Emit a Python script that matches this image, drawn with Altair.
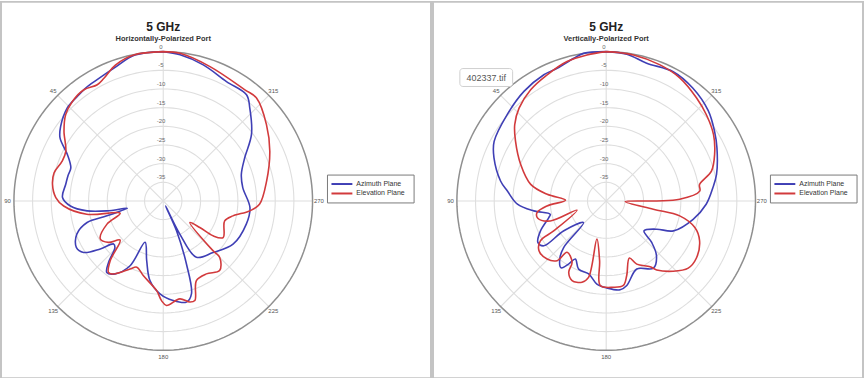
import altair as alt
import pandas as pd

# ---------------- data (angle in degrees CCW from top, gain in dB) ----------------
PLANES = ["Azimuth Plane", "Elevation Plane"]
COLORS = ["#3f3fb5", "#d23a3c"]

# Left: Horizontally-Polarized Port
H_AZ_ANG = [0, 11, 20, 28.6, 34.5, 40, 45.9, 53.9, 58.6, 64.2, 70.3, 75, 80.3, 88, 93.1, 97.4, 100, 101.5,
            104.8, 105.8, 111, 118.1, 122.9, 127.3, 130.9, 134, 138.3, 141.7, 146.6, 152.9, 156.3, 164.5,
            170.5, 178, 185.7, 192.9, 196.9, 200.2, 204, 205, 206.6, 210.5, 224, 238.2, 254.4, 265.6, 279.5,
            288.8, 297.9, 307, 317, 321.9, 332.1, 343.6, 353.4, 360]
H_AZ_DB = [0, -0.2, -2, -3, -3.3, -3.8, -4.2, -6, -7.6, -11.5, -13.7, -13.6, -13.5, -13, -15.1, -19.4, -24.7, -30.2,
           -24.4, -18.8, -15.2, -13.6, -14.6, -18.8, -22.4, -22, -18, -15.6, -16.6, -20.5, -27.9, -23.4,
           -18.4, -15.1, -13.2, -12.2, -14, -22, -31.2, -38.5, -30, -22.5, -20.8, -18, -16.9, -16.7, -18.4,
           -17.9, -15.3, -10.4, -6, -3.85, -3.8, -2, -0.6, 0]
H_EL_ANG = [0, 11.4, 19.4, 25.8, 29.6, 35.5, 42.4, 48.5, 54.9, 63, 68.5, 75.5, 81.5, 88.2, 92.9, 99.9, 105.9,
            112.4, 121.2, 127.1, 132.2, 138.4, 142.5, 145.7, 154, 158.2, 165, 175.8, 179, 181.8, 189.6, 194.7,
            197.6, 202.6, 210.6, 219, 225, 225, 230.9, 234, 235, 238.6, 252, 257.9, 263.4, 268, 280.9, 295,
            306.5, 317.8, 323.7, 340.8, 353.5, 360]
H_EL_DB = [0, -0.1, -1.4, -3.5, -4.2, -3.4, -3.9, -5.1, -7.5, -10.7, -10.9, -9.8, -10, -11.2, -13.3, -19.2, -28,
           -23.7, -20.3, -21.6, -24.4, -18.6, -15.9, -16.3, -19.7, -20.9, -19.3, -15.9, -13.3, -12, -13.4, -12,
           -12, -16.9, -17.3, -16, -18.6, -21.1, -30.8, -27.9, -23.7, -21.2, -22.7, -20.9, -16.7, -14.2, -11.8,
           -8.5, -5.6, -2.8, -3.05, -1.9, -0.2, 0]

# Right: Vertically-Polarized Port
V_AZ_ANG = [0, 8.7, 12.8, 20.3, 26.3, 36.9, 48.9, 62, 69, 79.3, 84.3, 92.1, 97.8, 103.4, 106.1, 114.4, 121.2,
            125.7, 125.1, 133.7, 137.6, 141.3, 146, 149.3, 152, 158, 166.5, 173.6, 180.4, 188.9, 193.7, 204.2,
            215.1, 222.6, 227.6, 231.7, 240.8, 246, 258.1, 268.1, 277.1, 283.5, 295.6, 302.7, 311.5, 322.4,
            332.6, 343.6, 352, 360]
V_AZ_DB = [0, 0, -0.8, -2.1, -2.3, -3.3, -4.8, -6, -7.8, -11.2, -13.4, -16.2, -20.4, -24.6, -24, -20.7, -18.6,
           -19.4, -26, -31.6, -23.1, -20.1, -18.4, -20.4, -22.4, -20.3, -19.9, -17.6, -16.7, -15.9, -16.7, -20,
           -18, -20.1, -23.5, -27.1, -24.5, -20.3, -16.2, -13.2, -11.2, -9.6, -7.1, -5.5, -3.5, -1.9,
           -1, -1.55, -0.3, 0]
V_EL_ANG = [0, 7.5, 15.7, 25.1, 34.2, 43.2, 50.2, 56.6, 66.9, 77.6, 83.6, 89, 94.8, 99.6, 104.2, 109.7, 107.6,
            119.7, 121.2, 126.5, 134.5, 140.6, 142.7, 150.9, 152.3, 156.8, 163.4, 167, 166.3, 173.7, 176, 184.8,
            191.5, 195.4, 202.1, 205.8, 213.7, 216.2, 223.6, 230.7, 237.7, 246.9, 253.3, 258.5, 260, 268, 270,
            271.3, 276, 280, 285.8, 293.2, 301.7, 310.7, 318.7, 329, 338.4, 349.4, 360]
V_EL_DB = [0, -0.55, -1.2, -2.7, -4, -5.9, -8.1, -10.9, -15.1, -19.3, -24.1, -29.1, -24.1, -21.2, -21.1, -24.1, -31.8,
           -23.8, -19.4, -17.6, -17.8, -19.3, -22.7, -21.2, -18.4, -16.8, -17.3, -19, -29.5, -23.9, -17.3, -16.8,
           -16.9, -19.3, -23.5, -21.2, -18.8, -17.1, -14, -11.6, -11.4, -12.8, -15.2, -19.9, -27.2, -34.9, -26.5,
           -20.3, -14.8, -14.6, -10.7, -8.4, -6.2, -4.6, -3.3, -1.6, -0.8, -0.2, 0]

RING_LEVELS = [-35, -30, -25, -20, -15, -10, -5]
OUTER_LEVEL = [0]
RADIAL_TICKS = [0, -5, -10, -15, -20, -25, -30, -35]
SPOKE_ANGLES = [0, 45, 90, 135]
ANGLE_TICKS = [45, 90, 135, 180, 225, 270, 315]

TITLE = "5 GHz"
SUBTITLES = ["Horizontally-Polarized Port", "Vertically-Polarized Port"]
FILE_TAG = "402337.tif"

FONT = "Liberation Sans"
PX = 3.75      # pixels per dB
SPAN = 40      # dB from centre to outer ring
PANEL_W = 432
PANEL_H = 378


def curve_frame(az_ang, az_db, el_ang, el_db):
    rows = []
    for plane, angs, dbs in ((PLANES[0], az_ang, az_db), (PLANES[1], el_ang, el_db)):
        for i, (a, d) in enumerate(zip(angs, dbs)):
            rows.append({"plane": plane, "idx": i, "ang": a, "db": d})
    return pd.DataFrame(rows)


def legend_layers(cx):
    lx = cx + 165
    box = (
        alt.Chart(pd.DataFrame({"t": ["legend"]}))
        .mark_rect(fill="white", stroke="#7a7a7a", strokeWidth=1)
        .encode(x=alt.value(lx), x2=alt.value(lx + 87), y=alt.value(174), y2=alt.value(202))
    )
    leg = pd.DataFrame({"plane": PLANES, "color": COLORS, "row": [0, 1]})
    sym = (
        alt.Chart(leg)
        .transform_calculate(py="183 + datum.row * 9.5")
        .mark_rule(strokeWidth=2)
        .encode(
            x=alt.value(lx + 4), x2=alt.value(lx + 25),
            y=alt.Y("py:Q", scale=None), color=alt.Color("color:N", scale=None),
        )
    )
    txt = (
        alt.Chart(leg)
        .transform_calculate(py="183 + datum.row * 9.5")
        .mark_text(font=FONT, fontSize=7, color="#333333", align="left", baseline="middle")
        .encode(x=alt.value(lx + 29), y=alt.Y("py:Q", scale=None), text="plane:N")
    )
    return [box, sym, txt]


def panel(subtitle, curves, cx, cy, extra=None):
    xs = alt.Scale(domain=[-cx / PX, (PANEL_W - cx) / PX], nice=False, zero=False)
    ys = alt.Scale(domain=[-(PANEL_H - cy) / PX, cy / PX], nice=False, zero=False)
    X = alt.X("x:Q", scale=xs, axis=None)
    Y = alt.Y("y:Q", scale=ys, axis=None)

    def ring_chart(levels, color, width):
        return (
            alt.Chart(pd.DataFrame({"level": levels}))
            .transform_calculate(a="sequence(0, 362, 2)")
            .transform_flatten(["a"])
            .transform_calculate(
                x=f"-(datum.level + {SPAN}) * sin(datum.a * PI / 180)",
                y=f"(datum.level + {SPAN}) * cos(datum.a * PI / 180)",
            )
            .mark_line(color=color, strokeWidth=width)
            .encode(x=X, y=Y, detail="level:N", order="a:Q")
        )

    rings = ring_chart(RING_LEVELS, "#dedede", 1.1)
    outer = ring_chart(OUTER_LEVEL, "#8f8f8f", 1.5)

    spokes = (
        alt.Chart(pd.DataFrame({"ang": SPOKE_ANGLES}))
        .transform_calculate(
            x=f"-{SPAN} * sin(datum.ang * PI / 180)",
            y=f"{SPAN} * cos(datum.ang * PI / 180)",
            x2=f"{SPAN} * sin(datum.ang * PI / 180)",
            y2=f"-{SPAN} * cos(datum.ang * PI / 180)",
        )
        .mark_rule(color="#dedede", strokeWidth=1.1)
        .encode(x=X, y=Y, x2="x2:Q", y2="y2:Q")
    )

    rlabels = (
        alt.Chart(pd.DataFrame({"level": RADIAL_TICKS}))
        .transform_calculate(x="-0.6", y=f"datum.level + {SPAN}", lab="'' + datum.level")
        .mark_text(font=FONT, fontSize=6, color="#6a6a6a", dy=-5)
        .encode(x=X, y=Y, text="lab:N")
    )

    alabels = (
        alt.Chart(pd.DataFrame({"ang": ANGLE_TICKS}))
        .transform_calculate(
            x=f"-({SPAN} + 1.7) * sin(datum.ang * PI / 180)",
            y=f"({SPAN} + 1.7) * cos(datum.ang * PI / 180)",
            lab="'' + datum.ang",
        )
        .mark_text(font=FONT, fontSize=6, color="#555555")
        .encode(x=X, y=Y, text="lab:N")
    )

    lines = (
        alt.Chart(curves)
        .transform_calculate(
            x=f"-(datum.db + {SPAN}) * sin(datum.ang * PI / 180)",
            y=f"(datum.db + {SPAN}) * cos(datum.ang * PI / 180)",
        )
        .mark_line(strokeWidth=1.6, strokeJoin="round", interpolate="catmull-rom")
        .encode(
            x=X,
            y=Y,
            order="idx:Q",
            color=alt.Color("plane:N", scale=alt.Scale(domain=PLANES, range=COLORS), legend=None),
        )
    )

    title = (
        alt.Chart(pd.DataFrame({"t": [TITLE]}))
        .mark_text(font=FONT, fontSize=12, fontWeight="bold", color="#222222")
        .encode(x=alt.value(cx), y=alt.value(25), text="t:N")
    )
    sub = (
        alt.Chart(pd.DataFrame({"t": [subtitle]}))
        .mark_text(font=FONT, fontSize=7.5, fontWeight="bold", color="#333333")
        .encode(x=alt.value(cx), y=alt.value(37), text="t:N")
    )

    layers = [rings, spokes, outer, rlabels, alabels, lines, title, sub] + legend_layers(cx)
    if extra is not None:
        layers += extra
    return alt.layer(*layers).properties(width=PANEL_W, height=PANEL_H)


left = panel(SUBTITLES[0], curve_frame(H_AZ_ANG, H_AZ_DB, H_EL_ANG, H_EL_DB), 163, 200)

tag_box = (
    alt.Chart(pd.DataFrame({"t": [FILE_TAG]}))
    .mark_rect(fill="white", stroke="#cfcfcf", strokeWidth=1, cornerRadius=3)
    .encode(x=alt.value(27), x2=alt.value(80), y=alt.value(67), y2=alt.value(85))
)
tag_text = (
    alt.Chart(pd.DataFrame({"t": [FILE_TAG]}))
    .mark_text(font=FONT, fontSize=9, color="#555555")
    .encode(x=alt.value(53.5), y=alt.value(76), text="t:N")
)

right = panel(SUBTITLES[1], curve_frame(V_AZ_ANG, V_AZ_DB, V_EL_ANG, V_EL_DB), 174, 200,
              extra=[tag_box, tag_text])

chart = (
    alt.hconcat(left, right, spacing=0)
    .resolve_scale(x="independent", y="independent", color="independent")
    .properties(padding=0, background="white")
    .configure_view(stroke="#c4c4c4", strokeWidth=2)
)

chart.save("out.html", embed_options={"renderer": "svg", "actions": False})
